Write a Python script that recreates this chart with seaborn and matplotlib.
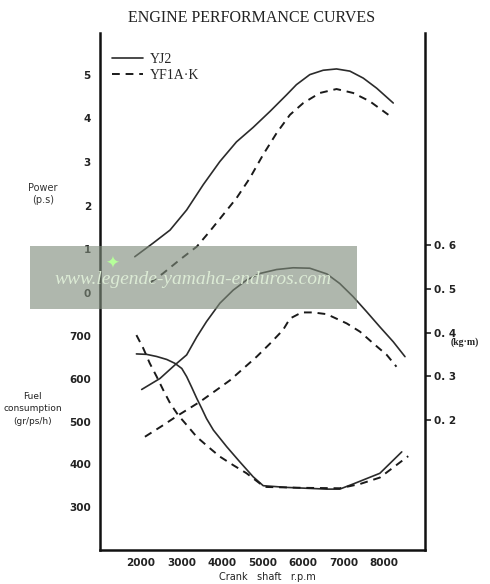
import matplotlib.pyplot as plt
import seaborn as sns
from matplotlib.patches import Rectangle

# power (p.s)
yj2_power_rpm = [1850, 2300, 2720, 3130, 3540, 3950, 4360, 4770, 5190, 5600,
                 5840, 6170, 6500, 6830, 7160, 7490, 7820, 8230]
yj2_power = [0.83, 1.14, 1.44, 1.90, 2.48, 3.01, 3.46, 3.79, 4.16, 4.54,
             4.77, 5.00, 5.10, 5.13, 5.08, 4.92, 4.69, 4.35]
yf_power_rpm = [2220, 2550, 2960, 3380, 3700, 4030, 4360, 4690, 5020, 5350,
                5680, 6010, 6420, 6830, 7240, 7650, 8110]
yf_power = [0.23, 0.45, 0.76, 1.06, 1.41, 1.79, 2.17, 2.63, 3.17, 3.66,
            4.08, 4.35, 4.58, 4.67, 4.58, 4.39, 4.08]

# torque (kg.m)
yj2_torque_rpm = [2020, 2470, 2840, 3130, 3380, 3620, 3950, 4280, 4610, 4940,
                  5350, 5760, 6170, 6590, 6910, 7240, 7570, 7900, 8230, 8520]
yj2_torque = [0.270, 0.295, 0.326, 0.349, 0.390, 0.425, 0.467, 0.497, 0.520, 0.535,
              0.544, 0.548, 0.547, 0.534, 0.512, 0.482, 0.448, 0.413, 0.379, 0.345]
yf_torque_rpm = [2100, 2510, 2920, 3460, 3870, 4200, 4530, 4860, 5190, 5510,
                 5680, 5970, 6250, 6590, 7080, 7410, 7740, 8070, 8310]
yf_torque = [0.162, 0.186, 0.211, 0.242, 0.269, 0.291, 0.318, 0.345, 0.375, 0.406,
             0.432, 0.446, 0.446, 0.442, 0.421, 0.402, 0.375, 0.349, 0.322]

# fuel consumption (gr/ps/h)
yj2_fuel_rpm = [1890, 2140, 2390, 2640, 2840, 3010, 3130, 3250, 3380, 3500, 3620,
                3790, 4120, 4440, 4770, 5020, 5600, 6090, 6590, 6910, 7240, 7900, 8440]
yj2_fuel = [658, 657, 652, 645, 636, 624, 605, 581, 554, 531, 507,
            480, 441, 406, 371, 350, 346, 344, 342, 342, 354, 379, 429]
yf_fuel_rpm = [1890, 2060, 2220, 2390, 2550, 2720, 2920, 3130, 3380, 3660,
               3950, 4280, 4610, 4940, 5100, 6010, 6910, 7410, 7900, 8600]
yf_fuel = [702, 671, 636, 605, 574, 543, 515, 492, 464, 441,
           418, 398, 379, 355, 347, 345, 344, 354, 369, 419]

rpm_ticks = [2000, 3000, 4000, 5000, 6000, 7000, 8000]
power_ticks = [0, 1, 2, 3, 4, 5]
fuel_ticks = [300, 400, 500, 600, 700]
torque_ticks = [0.2, 0.3, 0.4, 0.5, 0.6]

sns.set_style("white")
plt.rcParams["font.family"] = ["DejaVu Sans"]

fig = plt.figure(figsize=(4.9, 5.84), dpi=100)
rect = [0.204, 0.058, 0.663, 0.886]
ax_p = fig.add_axes(rect)
ax_f = fig.add_axes(rect, sharex=ax_p)
ax_t = fig.add_axes(rect, sharex=ax_p)
for a in (ax_f, ax_t):
    a.patch.set_visible(False)

line_kw = dict(color="#2b2b2b", linewidth=1.2)
dash_kw = dict(color="#1a1a1a", linewidth=1.4, linestyle=(0, (4, 3)))

sns.lineplot(x=yj2_power_rpm, y=yj2_power, ax=ax_p, label="YJ2", **line_kw)
sns.lineplot(x=yf_power_rpm, y=yf_power, ax=ax_p, label="YF1A·K", **dash_kw)
sns.lineplot(x=yj2_torque_rpm, y=yj2_torque, ax=ax_t, **line_kw)
sns.lineplot(x=yf_torque_rpm, y=yf_torque, ax=ax_t, **dash_kw)
sns.lineplot(x=yj2_fuel_rpm, y=yj2_fuel, ax=ax_f, **line_kw)
sns.lineplot(x=yf_fuel_rpm, y=yf_fuel, ax=ax_f, **dash_kw)

ax_p.set_xlim(990, 9010)
ax_p.set_ylim(-5.89, 5.96)
ax_f.set_ylim(199.4, 1408.8)
ax_t.set_ylim(-0.097, 1.085)

ax_p.set_xticks(rpm_ticks)
ax_p.set_yticks(power_ticks)
ax_f.set_yticks(fuel_ticks)
ax_t.set_yticks(torque_ticks)
ax_t.set_yticklabels([f"{v:.1f}".replace(".", ". ") for v in torque_ticks])
ax_t.yaxis.tick_right()

for a in (ax_p, ax_f, ax_t):
    a.set_xlabel("")
    a.set_ylabel("")
    for s in a.spines.values():
        s.set_visible(False)
    a.tick_params(labelsize=7.5, colors="#222222", width=1.2, length=4, direction="out",
                  pad=2.5)
    for lab in a.get_xticklabels() + a.get_yticklabels():
        lab.set_fontweight("bold")
for a in (ax_f, ax_t):
    a.tick_params(axis="x", bottom=False, labelbottom=False)

for side in ("left", "bottom"):
    ax_p.spines[side].set_visible(True)
    ax_p.spines[side].set_linewidth(1.8)
    ax_p.spines[side].set_color("#111111")
ax_t.spines["right"].set_visible(True)
ax_t.spines["right"].set_linewidth(1.8)
ax_t.spines["right"].set_color("#111111")
ax_p.tick_params(axis="x", length=2, pad=4)

ax_p.legend(loc="upper left", bbox_to_anchor=(0.0, 0.985), frameon=False,
            handlelength=2.2, handletextpad=0.5, labelspacing=0.2,
            prop={"family": "Liberation Serif", "size": 10})

fig.text(0.514, 0.969, "ENGINE PERFORMANCE CURVES", ha="center", va="center",
         family="Liberation Serif", fontsize=11.5, color="#222222")
fig.text(0.088, 0.668, "Power\n(p.s)", ha="center", va="center", fontsize=7,
         color="#333333", linespacing=1.3)
fig.text(0.066, 0.300, "Fuel\nconsumption\n(gr/ps/h)", ha="center", va="center",
         fontsize=6.5, color="#222222", linespacing=1.5)
fig.text(0.978, 0.414, "(kg·m)", ha="right", va="center", family="Liberation Serif",
         fontsize=7, color="#222222", fontweight="bold")
fig.text(0.545, 0.012, "Crank   shaft   r.p.m", ha="center", va="center", fontsize=7,
         color="#222222")

# watermark band
fig.patches.append(Rectangle((30 / 490, 1 - 309 / 584), 327 / 490, 63 / 584,
                             transform=fig.transFigure, facecolor="#7f8c7b",
                             alpha=0.62, edgecolor="none", zorder=5))
fig.text(0.394, 0.522, "www.legende-yamaha-enduros.com", ha="center", va="center",
         family="Liberation Serif", style="italic", fontsize=14, color="#dcebd5",
         zorder=6)
fig.text(0.229, 0.549, "✦", ha="center", va="center", fontsize=12,
         color="#b6ff9a", zorder=6)

fig.savefig("out.png", dpi=100, facecolor="white")
